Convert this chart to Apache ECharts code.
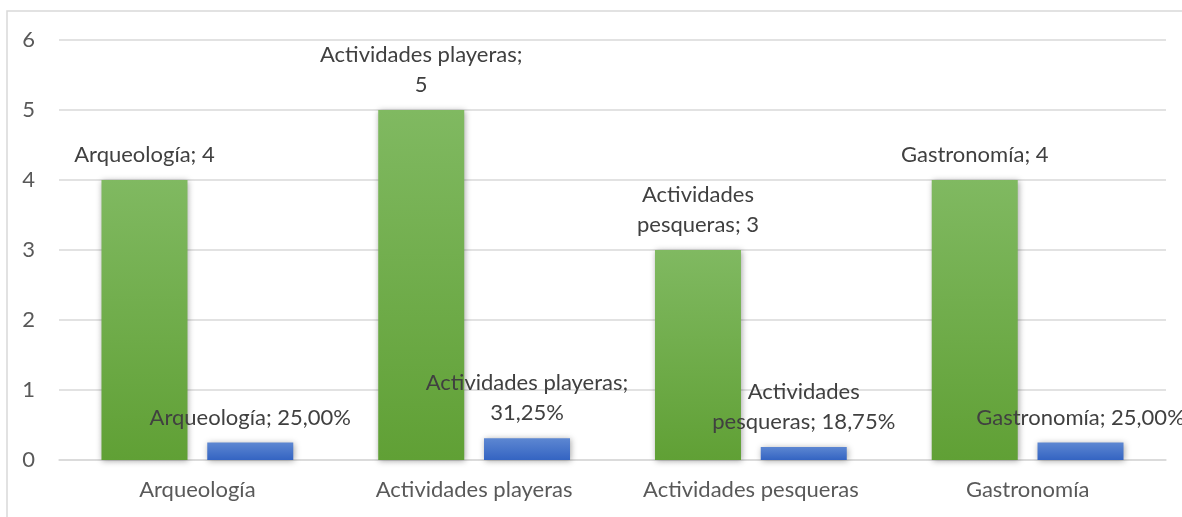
<!DOCTYPE html>
<html>
<head>
<meta charset="utf-8">
<script src="https://cdn.jsdelivr.net/npm/echarts@6/dist/echarts.min.js"></script>
<style>
html,body{margin:0;padding:0;background:#fff;}
#chart{width:1182px;height:517px;}
</style>
</head>
<body>
<div id="chart"></div>
<script>
const categories = ['Arqueología', 'Actividades playeras', 'Actividades pesqueras', 'Gastronomía'];
const counts = [4, 5, 3, 4];
const shares = [0.25, 0.3125, 0.1875, 0.25];
const yTicks = [0, 1, 2, 3, 4, 5, 6];
// where each data label wraps (text shown before the line break)
const countLabelBreak = [null, 'Actividades playeras;', 'Actividades', null];
const shareLabelBreak = [null, 'Actividades playeras;', 'Actividades', null];

const FONT = 'Lato';
const FS = 22;

function pct(v) {
  return (v * 100).toFixed(2).replace('.', ',') + '%';
}
function wrap(text, brk) {
  if (!brk) return text;
  return brk + '\n' + text.slice(brk.length).trim();
}

const chart = echarts.init(document.getElementById('chart'), null, {renderer: 'canvas'});
chart.setOption({
  animation: false,
  backgroundColor: '#ffffff',
  graphic: [{
    type: 'rect',
    shape: {x: 7, y: 11, width: 1400, height: 700},
    style: {fill: 'none', stroke: '#d9d9d9', lineWidth: 1.5},
    silent: true
  }],
  grid: {left: 59, right: 16, top: 40, bottom: 57, containLabel: false},
  xAxis: {
    type: 'category',
    data: categories,
    axisLine: {show: true, lineStyle: {color: '#d9d9d9', width: 1.5}},
    axisTick: {show: false},
    axisLabel: {interval: 0, color: '#595959', fontFamily: FONT, fontSize: FS, margin: 19}
  },
  yAxis: {
    type: 'value',
    min: yTicks[0],
    max: yTicks[yTicks.length - 1],
    interval: 1,
    axisLine: {show: false},
    axisTick: {show: false},
    splitLine: {lineStyle: {color: '#d9d9d9', width: 1.5}},
    axisLabel: {color: '#595959', fontFamily: FONT, fontSize: FS, margin: 24}
  },
  series: [
    {
      name: 'Frecuencia',
      type: 'bar',
      data: counts,
      barWidth: 86,
      barGap: '23%',
      itemStyle: {
        color: new echarts.graphic.LinearGradient(0, 0, 0, 1, [
          {offset: 0, color: '#80b961'},
          {offset: 1, color: '#60a035'}
        ]),
        shadowBlur: 6,
        shadowColor: 'rgba(0,0,0,0.35)',
        shadowOffsetX: 1,
        shadowOffsetY: 1
      },
      label: {
        show: true,
        position: 'top',
        distance: 10,
        color: '#404040',
        fontFamily: FONT,
        fontSize: FS,
        lineHeight: 30,
        formatter: p => wrap(categories[p.dataIndex] + '; ' + p.value, countLabelBreak[p.dataIndex])
      }
    },
    {
      name: 'Porcentaje',
      type: 'bar',
      data: shares,
      barWidth: 86,
      itemStyle: {
        color: new echarts.graphic.LinearGradient(0, 0, 0, 1, [
          {offset: 0, color: '#5d87d2'},
          {offset: 1, color: '#3464c2'}
        ]),
        shadowBlur: 6,
        shadowColor: 'rgba(0,0,0,0.35)',
        shadowOffsetX: 1,
        shadowOffsetY: 1
      },
      label: {
        show: true,
        position: 'top',
        distance: 10,
        color: '#404040',
        fontFamily: FONT,
        fontSize: FS,
        lineHeight: 30,
        formatter: p => wrap(categories[p.dataIndex] + '; ' + pct(p.value), shareLabelBreak[p.dataIndex])
      }
    }
  ]
});
</script>
</body>
</html>
